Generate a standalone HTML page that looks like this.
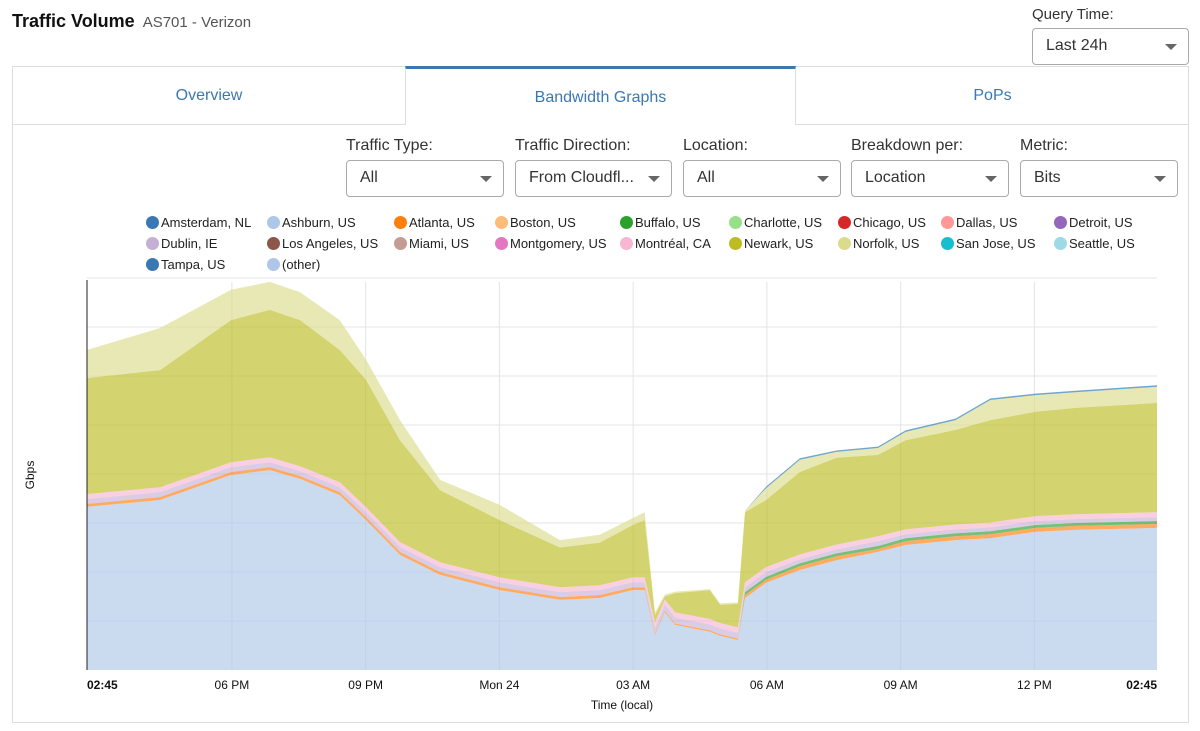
<!DOCTYPE html>
<html><head><meta charset="utf-8"><style>
body{margin:0;width:1200px;height:731px;background:#fff;font-family:"Liberation Sans",sans-serif;position:relative;overflow:hidden}
.abs{position:absolute}
.sel{position:absolute;border:1px solid #aaa;border-radius:4px;background:#fff;font-size:16px;color:#333;box-sizing:border-box;padding-left:13px;line-height:34px}
.sel:after{content:"";position:absolute;right:11px;top:15px;border-left:6px solid transparent;border-right:6px solid transparent;border-top:6px solid #666}
.lab{position:absolute;font-size:16px;color:#333}
.tab{position:absolute;top:66px;height:59px;box-sizing:border-box;text-align:center;line-height:60px;color:#3c78b0;font-size:16px;border-bottom:1px solid #ddd}
.leg{position:absolute;font-size:13px;color:#222;white-space:nowrap}
.leg i{display:inline-block;width:13px;height:13px;border-radius:50%;vertical-align:-2px;margin-right:2px}
</style></head><body>
<div class="abs" style="left:12px;top:11px;font-size:18px;font-weight:bold;color:#111">Traffic Volume <span style="font-weight:normal;font-size:15px;color:#555;margin-left:3px">AS701 - Verizon</span></div>
<div class="lab" style="left:1032px;top:6px;font-size:15px">Query Time:</div>
<div class="sel" style="left:1032px;top:28px;width:157px;height:37px">Last 24h</div>
<div class="abs" style="left:12px;top:66px;width:1177px;height:657px;box-sizing:border-box;border:1px solid #ddd"></div>
<div class="tab" style="left:12px;width:393px;border-left:1px solid #ddd">Overview</div>
<div class="tab" style="left:405px;width:391px;border-top:3px solid #3c78b0;border-bottom:none;border-left:1px solid #ddd;border-right:1px solid #ddd;line-height:58px">Bandwidth Graphs</div>
<div class="tab" style="left:796px;width:393px">PoPs</div>
<div class="lab" style="left:346px;top:137px">Traffic Type:</div>
<div class="sel" style="left:346px;top:160px;width:158px;height:37px">All</div>
<div class="lab" style="left:515px;top:137px">Traffic Direction:</div>
<div class="sel" style="left:515px;top:160px;width:157px;height:37px">From Cloudfl...</div>
<div class="lab" style="left:683px;top:137px">Location:</div>
<div class="sel" style="left:683px;top:160px;width:158px;height:37px">All</div>
<div class="lab" style="left:851px;top:137px">Breakdown per:</div>
<div class="sel" style="left:851px;top:160px;width:158px;height:37px">Location</div>
<div class="lab" style="left:1020px;top:137px">Metric:</div>
<div class="sel" style="left:1020px;top:160px;width:158px;height:37px">Bits</div>
<div id="legend"></div>
<svg id="chart" class="abs" style="left:0;top:0" width="1200" height="731"></svg>
<script>
const legendNames=["Amsterdam, NL","Ashburn, US","Atlanta, US","Boston, US","Buffalo, US","Charlotte, US","Chicago, US","Dallas, US","Detroit, US","Dublin, IE","Los Angeles, US","Miami, US","Montgomery, US","Montréal, CA","Newark, US","Norfolk, US","San Jose, US","Seattle, US","Tampa, US","(other)"];
const legendColors=["#3a78b4","#aec7e8","#ff7f0e","#ffbb78","#2ca02c","#98df8a","#d62728","#ff9896","#9467bd","#c5b0d5","#8c564b","#c49c94","#e377c2","#f7b6d2","#bcbd22","#dbdb8d","#17becf","#9edae5","#3a78b4","#aec7e8"];
const legX=[146,267,394,495,620,729,838,941,1054];
const lg=document.getElementById('legend');
legendNames.forEach((n,i)=>{const d=document.createElement('div');d.className='leg';


d.style.left=legX[i%9]+'px';d.style.top=(215+Math.floor(i/9)*21)+'px';
d.innerHTML='<i style="background:'+legendColors[i]+'"></i>'+n;lg.appendChild(d);});

// data
const hours=[0,1.64,3.23,4.1,4.78,5.67,6.26,7.02,7.92,9.26,10.61,11.5,12.24,12.51,12.74,12.96,13.19,13.97,14.2,14.6,14.76,15.23,15.99,16.81,17.74,18.36,19.48,20.26,21.27,22.17,24];
const ashburn=[3.33,3.47,3.98,4.08,3.9,3.57,3.06,2.35,1.94,1.63,1.43,1.47,1.63,1.63,0.71,1.18,0.92,0.78,0.7,0.61,1.47,1.78,2.04,2.24,2.41,2.55,2.65,2.69,2.82,2.86,2.9];
const atlanta=[0.06,0.06,0.06,0.06,0.06,0.06,0.06,0.06,0.06,0.06,0.06,0.06,0.06,0.06,0.03,0.03,0.03,0.03,0.03,0.03,0.06,0.06,0.08,0.08,0.06,0.08,0.08,0.08,0.08,0.08,0.08];
const buffalo=[0,0,0,0,0,0,0,0,0,0,0,0,0,0,0,0,0,0,0,0,0.06,0.06,0.06,0.06,0.06,0.06,0.06,0.06,0.06,0.06,0.06];
const dublin=[0.1,0.1,0.1,0.1,0.1,0.1,0.1,0.1,0.1,0.1,0.1,0.1,0.1,0.1,0.12,0.12,0.12,0.12,0.12,0.12,0.1,0.1,0.08,0.08,0.1,0.08,0.08,0.08,0.08,0.08,0.08];
const montreal=[0.1,0.1,0.1,0.1,0.1,0.1,0.1,0.1,0.1,0.1,0.1,0.1,0.1,0.1,0.11,0.11,0.11,0.11,0.11,0.11,0.1,0.1,0.1,0.1,0.1,0.1,0.1,0.1,0.1,0.1,0.1];
const newark=[2.37,2.39,2.9,3.01,2.98,2.7,2.6,2.08,1.47,1.17,0.81,0.87,1.07,1.17,0.15,0.06,0.39,0.59,0.37,0.48,1.43,1.37,1.68,1.77,1.66,1.82,1.93,2.09,2.13,2.17,2.23];
const norfolk=[0.57,0.86,0.62,0.57,0.57,0.61,0.41,0.41,0.21,0.31,0.15,0.16,0.14,0.16,0.06,0.04,0.03,0.02,0.03,0.03,0.03,0.24,0.25,0.12,0.14,0.17,0.2,0.41,0.34,0.32,0.33];
const amsterdam=[0,0,0,0,0,0,0,0,0,0,0,0,0,0,0,0,0,0,0,0,0,0.03,0.03,0.03,0.03,0.03,0.03,0.03,0.03,0.03,0.03];
const xTickHours=[0,3.25,6.25,9.25,12.25,15.25,18.25,21.25,24];
const xTickLabels=["02:45","06 PM","09 PM","Mon 24","03 AM","06 AM","09 AM","12 PM","02:45"];
const yGrid=[1,2,3,4,5,6,7,8];

const X0=87,X1=1157,Y0=670,PX=49;
const xs=h=>X0+(h/24)*(X1-X0);
const ys=v=>Y0-v*PX;
const svg=document.getElementById('chart');
const NS='http://www.w3.org/2000/svg';
function mk(t,a){const e=document.createElementNS(NS,t);for(const k in a)e.setAttribute(k,a[k]);svg.appendChild(e);return e;}
yGrid.forEach(v=>{const l=mk('line',{x1:X0,x2:X1,y1:ys(v),y2:ys(v),stroke:'#e4e4e4'});

});
xTickHours.forEach((h,i)=>{if(i>0&&i<xTickHours.length-1){const l=mk('line',{x1:xs(h),x2:xs(h),y1:282,y2:Y0,stroke:'#e4e4e4'});

}
const t=mk('text',{x:xs(h),y:689,'text-anchor':i==0?'start':(i==xTickHours.length-1?'end':'middle'),'font-size':12,'font-weight':(i==0||i==xTickHours.length-1)?'bold':'normal',fill:'#111'});
t.textContent=xTickLabels[i];

});
const series=[[ashburn,'#aec7e8','ashburn-area'],[atlanta,'#ff7f0e','atlanta-area'],[buffalo,'#2ca02c','buffalo-area'],[dublin,'#c5b0d5','dublin-area'],[montreal,'#f7b6d2','montreal-area'],[newark,'#bcbd22','newark-area'],[norfolk,'#dbdb8d','norfolk-area'],[amsterdam,'#1f77b4','amsterdam-area']];
let base=hours.map(()=>0);
series.forEach(([vals,col,name])=>{const top=base.map((b,i)=>b+vals[i]);
let d='M'+hours.map((h,i)=>xs(h).toFixed(1)+','+ys(top[i]).toFixed(1)).join('L');
for(let i=hours.length-1;i>=0;i--)d+='L'+xs(hours[i]).toFixed(1)+','+ys(base[i]).toFixed(1);
const p=mk('path',{d:d+'Z',fill:col,'fill-opacity':0.65,stroke:'none'});


base=top;});
const ax=mk('line',{x1:X0,x2:X0,y1:280,y2:Y0,stroke:'#222'});


const yt=mk('text',{x:34,y:475,'font-size':12,transform:'rotate(-90 34 475)','text-anchor':'middle',fill:'#111'});yt.textContent='Gbps';


const xt=mk('text',{x:622,y:709,'font-size':12,'text-anchor':'middle',fill:'#111'});xt.textContent='Time (local)';


</script>
</body></html>
